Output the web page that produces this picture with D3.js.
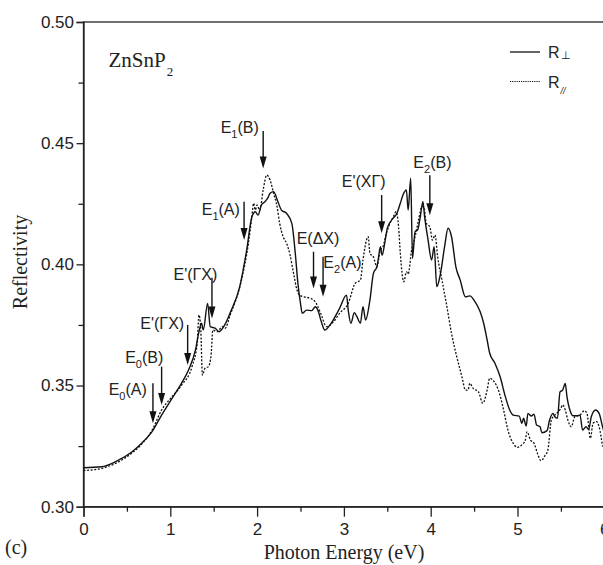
<!DOCTYPE html>
<html>
<head>
<meta charset="utf-8">
<script src="https://cdn.jsdelivr.net/npm/d3@7"></script>
<style>
  body { margin: 0; background: #fff; }
  svg text { fill: #222; }
</style>
</head>
<body>
<div id="chart"></div>
<script>
// R perpendicular (solid)
const ePerp = [0, 0.21, 0.37, 0.56, 0.67, 0.79, 0.90, 1.02, 1.13, 1.21, 1.29, 1.33, 1.36, 1.38, 1.43, 1.46, 1.52, 1.56, 1.63, 1.69,
  1.80, 1.88, 1.94, 1.98, 2.01, 2.05, 2.09, 2.12, 2.15, 2.19, 2.24, 2.28, 2.34, 2.40, 2.44, 2.47, 2.50, 2.52, 2.57, 2.63,
  2.67, 2.70, 2.74, 2.78, 2.84, 2.95, 3.03, 3.05, 3.08, 3.12, 3.15, 3.19, 3.22, 3.25, 3.30, 3.34, 3.38, 3.40, 3.42, 3.44,
  3.47, 3.50, 3.55, 3.61, 3.65, 3.68, 3.72, 3.74, 3.77, 3.79, 3.82, 3.85, 3.88, 3.91, 3.93, 3.97, 4.01, 4.04, 4.07, 4.11,
  4.16, 4.20, 4.24, 4.29, 4.34, 4.40, 4.45, 4.51, 4.57, 4.61, 4.65, 4.68, 4.74, 4.80, 4.86, 4.91, 4.95, 5.02, 5.05, 5.07,
  5.10, 5.12, 5.16, 5.19, 5.22, 5.26, 5.28, 5.34, 5.37, 5.41, 5.43, 5.46, 5.49, 5.52, 5.55, 5.57, 5.61, 5.64, 5.69, 5.72,
  5.75, 5.79, 5.82, 5.85, 5.90, 5.94, 5.98, 6.0];
const rPerp = [0.3161, 0.3165, 0.3186, 0.3227, 0.3262, 0.3310, 0.3378, 0.3447, 0.3510, 0.3564, 0.3647, 0.3722, 0.3757, 0.3730, 0.3839, 0.3743, 0.3736, 0.3722, 0.3752, 0.3800,
  0.3908, 0.4059, 0.4196, 0.4217, 0.4203, 0.4245, 0.4258, 0.4272, 0.4293, 0.4300, 0.4258, 0.4224, 0.4210, 0.4169, 0.4045, 0.3922, 0.3839, 0.3798, 0.3811, 0.3809,
  0.3825, 0.3811, 0.3763, 0.3729, 0.3750, 0.3818, 0.3873, 0.3811, 0.3757, 0.3800, 0.3784, 0.3757, 0.3825, 0.3770, 0.3853, 0.3963, 0.3990, 0.4031, 0.4073, 0.4038,
  0.4087, 0.4149, 0.4183, 0.4210, 0.4252, 0.4286, 0.4307, 0.4224, 0.4355, 0.4025, 0.4135, 0.4142, 0.4196, 0.4258, 0.4196, 0.4100, 0.4018, 0.4073, 0.3908, 0.3956,
  0.4073, 0.4149, 0.4114, 0.3990, 0.3935, 0.3866, 0.3870, 0.3846, 0.3804, 0.3757, 0.3688, 0.3633, 0.3592, 0.3536, 0.3454, 0.3399, 0.3378, 0.3374, 0.3344, 0.3365,
  0.3333, 0.3385, 0.3374, 0.3382, 0.3337, 0.3330, 0.3305, 0.3314, 0.3358, 0.3385, 0.3371, 0.3365, 0.3474, 0.3481, 0.3509, 0.3454, 0.3392, 0.3375, 0.3375, 0.3378,
  0.3316, 0.3330, 0.3319, 0.3371, 0.3399, 0.3385, 0.3330, 0.3305];

// R parallel (dotted)
const ePar = [0, 0.21, 0.37, 0.56, 0.67, 0.79, 0.90, 1.02, 1.13, 1.25, 1.31, 1.33, 1.35, 1.37, 1.40, 1.44, 1.47, 1.49, 1.54, 1.60,
  1.63, 1.69, 1.82, 1.90, 1.94, 1.96, 1.98, 2.00, 2.03, 2.07, 2.11, 2.15, 2.19, 2.23, 2.26, 2.30, 2.34, 2.38, 2.42, 2.46,
  2.49, 2.54, 2.61, 2.67, 2.70, 2.74, 2.80, 2.88, 2.95, 3.05, 3.13, 3.19, 3.22, 3.26, 3.28, 3.30, 3.34, 3.38, 3.42, 3.45,
  3.49, 3.53, 3.57, 3.60, 3.63, 3.65, 3.69, 3.72, 3.74, 3.78, 3.82, 3.86, 3.90, 3.92, 3.95, 3.99, 4.02, 4.05, 4.08, 4.13,
  4.18, 4.24, 4.30, 4.36, 4.40, 4.43, 4.45, 4.49, 4.55, 4.60, 4.65, 4.68, 4.73, 4.78, 4.84, 4.89, 4.95, 5.00, 5.05, 5.09,
  5.11, 5.15, 5.19, 5.23, 5.27, 5.32, 5.35, 5.39, 5.43, 5.47, 5.50, 5.52, 5.55, 5.58, 5.62, 5.66, 5.72, 5.77, 5.80, 5.84,
  5.87, 5.91, 5.94, 5.98];
const rPar = [0.3149, 0.3158, 0.3179, 0.3222, 0.3258, 0.3316, 0.3399, 0.3454, 0.3502, 0.3578, 0.3674, 0.3791, 0.3740, 0.3543, 0.3571, 0.3578, 0.3626, 0.3729, 0.3722, 0.3743,
  0.3736, 0.3791, 0.3935, 0.4087, 0.4196, 0.4252, 0.4224, 0.4245, 0.4224, 0.4307, 0.4368, 0.4348, 0.4293, 0.4238, 0.4169, 0.4114, 0.4087, 0.4038, 0.3963, 0.3894,
  0.3873, 0.3866, 0.3860, 0.3846, 0.3825, 0.3791, 0.3743, 0.3763, 0.3798, 0.3839, 0.3922, 0.3935, 0.4018, 0.4100, 0.4114, 0.4045, 0.4031, 0.3990, 0.4059, 0.4073,
  0.4128, 0.4169, 0.4196, 0.4217, 0.4155, 0.4045, 0.3928, 0.3969, 0.3960, 0.4059, 0.4114, 0.4183, 0.4238, 0.4238, 0.4169, 0.4155, 0.4100, 0.4121, 0.4031, 0.3935,
  0.3839, 0.3715, 0.3619, 0.3536, 0.3481, 0.3481, 0.3509, 0.3488, 0.3474, 0.3427, 0.3481, 0.3530, 0.3516, 0.3481, 0.3399, 0.3316, 0.3262, 0.3245, 0.3255, 0.3275,
  0.3309, 0.3275, 0.3262, 0.3220, 0.3190, 0.3213, 0.3234, 0.3358, 0.3378, 0.3392, 0.3406, 0.3420, 0.3399, 0.3358, 0.3330, 0.3371, 0.3378, 0.3396, 0.3385, 0.3282,
  0.3344, 0.3351, 0.3330, 0.3248];

const xTicks = [0, 1, 2, 3, 4, 5, 6];
const yTicks = [0.30, 0.35, 0.40, 0.45, 0.50];

// transition arrows: energy, arrow top / tip reflectivity, label start (eV, R)
const arrows = [
  { main: "E", sub: "0", rest: "(A)", e: 0.80, top: 0.3509, tip: 0.3344, le: 0.29, lr: 0.3461 },
  { main: "E", sub: "0", rest: "(B)", e: 0.90, top: 0.3578, tip: 0.3420, le: 0.48, lr: 0.3593 },
  { main: "E'(\u0393X)", sub: "", rest: "", e: 1.20, top: 0.3750, tip: 0.3585, le: 0.654, lr: 0.3732 },
  { main: "E'(\u0393X)", sub: "", rest: "", e: 1.48, top: 0.3945, tip: 0.3777, le: 1.037, lr: 0.3935 },
  { main: "E", sub: "1", rest: "(A)", e: 1.85, top: 0.4258, tip: 0.4100, le: 1.362, lr: 0.4203 },
  { main: "E", sub: "1", rest: "(B)", e: 2.07, top: 0.4550, tip: 0.4396, le: 1.58, lr: 0.4540 },
  { main: "E(\u0394X)", sub: "", rest: "", e: 2.65, top: 0.4052, tip: 0.3900, le: 2.456, lr: 0.4082 },
  { main: "E", sub: "2", rest: "(A)", e: 2.76, top: 0.4031, tip: 0.3866, le: 2.763, lr: 0.3983 },
  { main: "E'(X\u0393)", sub: "", rest: "", e: 3.435, top: 0.4286, tip: 0.4128, le: 2.975, lr: 0.4320 },
  { main: "E", sub: "2", rest: "(B)", e: 3.99, top: 0.4368, tip: 0.4203, le: 3.80, lr: 0.4396 }
];

const width = 603, height = 565;
const margin = { top: 22, right: -1.3, bottom: 58.3, left: 83.5 };

const svg = d3.select("#chart").append("svg")
  .attr("width", width)
  .attr("height", height)
  .style("font-family", "'Liberation Sans', Arial, sans-serif");

const x = d3.scaleLinear().domain([0, 6]).range([margin.left, width - margin.right]);
const y = d3.scaleLinear().domain([0.30, 0.50]).range([height - margin.bottom, margin.top]);

// frame
svg.append("rect")
  .attr("x", x(0)).attr("y", y(0.50))
  .attr("width", x(6) - x(0)).attr("height", y(0.30) - y(0.50))
  .attr("fill", "none").attr("stroke", "#222").attr("stroke-width", 1.3);

// minor ticks
svg.append("g")
  .attr("transform", `translate(0,${y(0.30)})`)
  .call(d3.axisBottom(x).tickValues(d3.range(0.5, 6, 1)).tickSize(5).tickFormat(""))
  .call(g => g.select(".domain").remove())
  .call(g => g.selectAll("line").attr("stroke", "#222").attr("stroke-width", 1.3));
svg.append("g")
  .attr("transform", `translate(${x(0)},0)`)
  .call(d3.axisLeft(y).tickValues([0.325, 0.375, 0.425, 0.475]).tickSize(5).tickFormat(""))
  .call(g => g.select(".domain").remove())
  .call(g => g.selectAll("line").attr("stroke", "#222").attr("stroke-width", 1.3));

// major ticks
svg.append("g")
  .attr("transform", `translate(0,${y(0.30)})`)
  .call(d3.axisBottom(x).tickValues(xTicks).tickSize(10).tickPadding(6).tickFormat(d3.format("d")))
  .call(g => g.select(".domain").attr("stroke", "#222").attr("stroke-width", 1.3))
  .call(g => g.selectAll("line").attr("stroke", "#222").attr("stroke-width", 1.3))
  .call(g => g.selectAll("text").attr("font-size", 17).attr("font-family", "'Liberation Sans', Arial, sans-serif").attr("fill", "#222"));
svg.append("g")
  .attr("transform", `translate(${x(0)},0)`)
  .call(d3.axisLeft(y).tickValues(yTicks).tickSize(7).tickPadding(2.5).tickFormat(d3.format(".2f")))
  .call(g => g.select(".domain").attr("stroke", "#222").attr("stroke-width", 1.3))
  .call(g => g.selectAll("line").attr("stroke", "#222").attr("stroke-width", 1.3))
  .call(g => g.selectAll("text").attr("font-size", 17).attr("font-family", "'Liberation Sans', Arial, sans-serif").attr("fill", "#222"));

// curves
const line = d3.line()
  .x(d => x(d[0]))
  .y(d => y(d[1]))
  .curve(d3.curveMonotoneX);

svg.append("path")
  .datum(ePerp.map((e, i) => [e, rPerp[i]]))
  .attr("d", line)
  .attr("fill", "none").attr("stroke", "#111").attr("stroke-width", 1.4);

svg.append("path")
  .datum(ePar.map((e, i) => [e, rPar[i]]))
  .attr("d", line)
  .attr("fill", "none").attr("stroke", "#111").attr("stroke-width", 1.3)
  .attr("stroke-dasharray", "2,1.6");

// arrows
const ag = svg.append("g");
arrows.forEach(a => {
  const ax = x(a.e), y0 = y(a.top), y1 = y(a.tip);
  ag.append("line")
    .attr("x1", ax).attr("x2", ax).attr("y1", y0).attr("y2", y1 - 8)
    .attr("stroke", "#111").attr("stroke-width", 1.4);
  ag.append("path")
    .attr("d", `M${ax - 3.5},${y1 - 12} L${ax + 3.5},${y1 - 12} L${ax},${y1} Z`)
    .attr("fill", "#111");
  const t = ag.append("text")
    .attr("x", x(a.le)).attr("y", y(a.lr))
    .attr("font-size", 16);
  t.append("tspan").text(a.main);
  if (a.sub) {
    t.append("tspan").attr("font-size", 11).attr("dy", 5).text(a.sub);
    t.append("tspan").attr("dy", -5).text(a.rest);
  }
});

// sample label
const zl = svg.append("text")
  .attr("x", 108.5).attr("y", 66.7)
  .attr("font-family", "'Liberation Serif', 'Times New Roman', serif")
  .attr("font-size", 21);
zl.append("tspan").text("ZnSnP");
zl.append("tspan").attr("font-size", 13).attr("dx", 1).attr("dy", 9).text("2");

// legend
const lg = svg.append("g");
lg.append("line").attr("x1", 510).attr("x2", 540).attr("y1", 52).attr("y2", 52)
  .attr("stroke", "#111").attr("stroke-width", 1.3);
lg.append("line").attr("x1", 510).attr("x2", 540).attr("y1", 81.5).attr("y2", 81.5)
  .attr("stroke", "#111").attr("stroke-width", 1.2).attr("stroke-dasharray", "1.2,1");
const l1 = lg.append("text").attr("x", 548).attr("y", 58).attr("font-size", 16);
l1.append("tspan").text("R");
l1.append("tspan").attr("font-size", 11).attr("dx", 1).attr("dy", 1).text("\u22A5");
const l2 = lg.append("text").attr("x", 548).attr("y", 87.5).attr("font-size", 16);
l2.append("tspan").text("R");
l2.append("tspan").attr("font-size", 9).attr("font-style", "italic").attr("dx", 1).attr("dy", 6).text("//");

// axis titles
svg.append("text")
  .attr("x", 344).attr("y", 559)
  .attr("text-anchor", "middle")
  .attr("font-family", "'Liberation Serif', 'Times New Roman', serif")
  .attr("font-size", 20)
  .text("Photon Energy (eV)");

svg.append("text")
  .attr("transform", "translate(27,262) rotate(-90)")
  .attr("text-anchor", "middle")
  .attr("font-family", "'Liberation Serif', 'Times New Roman', serif")
  .attr("font-size", 20)
  .text("Reflectivity");

svg.append("text")
  .attr("x", 5).attr("y", 554)
  .attr("font-family", "'Liberation Serif', 'Times New Roman', serif")
  .attr("font-size", 20)
  .text("(c)");
</script>
</body>
</html>
